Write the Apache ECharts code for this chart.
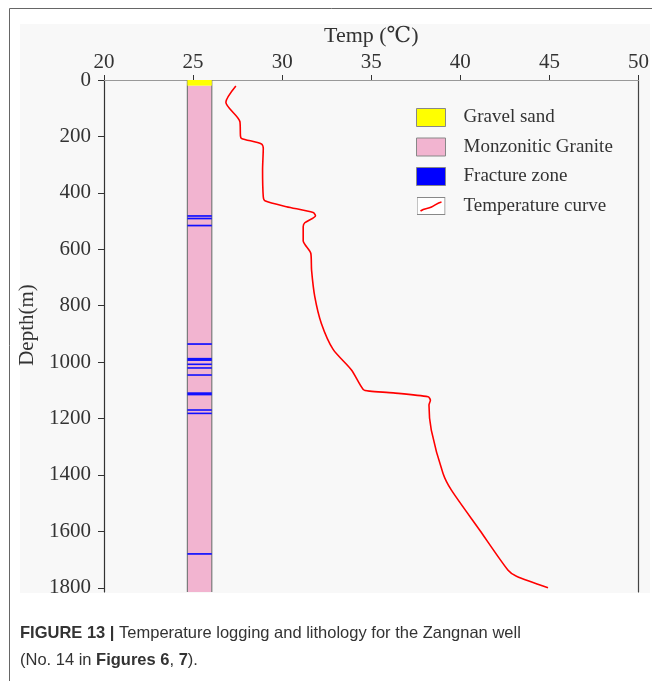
<!DOCTYPE html>
<html><head><meta charset="utf-8">
<script src="https://cdn.jsdelivr.net/npm/echarts@6/dist/echarts.min.js"></script>
<style>html,body{margin:0;padding:0;background:#fff}#c{width:652px;height:681px}</style>
</head><body><div id="c"></div>
<script>
// ---- data ----
const tempTicks = [20, 25, 30, 35, 40, 45, 50];
const depthTicks = [0, 200, 400, 600, 800, 1000, 1200, 1400, 1600, 1800];
const gravelTop = [0];
const gravelBottom = [20];
const graniteTop = [20];
const graniteBottom = [1815];
const fractureTop =    [479, 488, 513, 933, 985, 1005, 1018, 1043, 1107, 1167, 1179, 1677];
const fractureBottom = [485, 494, 519, 939, 996, 1010, 1023, 1048, 1118, 1172, 1184, 1683];
const curveTemp =  [27.40, 26.84, 27.63, 27.66, 27.72, 28.84, 28.94, 28.90, 28.94, 29.03, 30.24, 31.74, 31.87, 31.27, 31.18, 31.18, 31.61, 31.65, 31.83, 32.20, 32.86, 33.89, 34.55, 34.92, 36.23, 38.19, 38.32, 38.24, 38.37, 39.03, 39.50, 41.09, 42.68, 43.15, 44.92];
const curveDepth = [21,    79,    148,   199,   207,   227,   242,   319,   414,   428,   449,   470,   481,   506,   520,   570,   615,   674,   768,   863,   955,   1028,  1097,  1103,  1109,  1123,  1135,  1152,  1241,  1395,  1454,  1596,  1738,  1759,  1800];

// ---- chart ----
const COL_L = 24.68, COL_R = 26.05;
const SERIF = "'Liberation Serif', 'DejaVu Serif', serif";

function bands(tops, bots) { return tops.map((t, i) => [t, bots[i]]); }

function bandRender(color, minH, withBorder) {
  return function (params, api) {
    const top = api.value(0), bot = api.value(1);
    const p0 = api.coord([COL_L, top]);
    const p1 = api.coord([COL_R, bot]);
    const h = Math.max(p1[1] - p0[1], minH);
    const children = [{ type: 'rect', shape: { x: p0[0], y: p0[1], width: p1[0] - p0[0], height: h }, style: { fill: color } }];
    if (withBorder) {
      const q0 = api.coord([COL_L, gravelTop[0]]);
      children.push({ type: 'line', shape: { x1: p0[0], y1: q0[1], x2: p0[0], y2: p1[1] }, style: { stroke: '#7a7a7a', lineWidth: 1.2 } });
      children.push({ type: 'line', shape: { x1: p1[0], y1: q0[1], x2: p1[0], y2: p1[1] }, style: { stroke: '#7a7a7a', lineWidth: 1.2 } });
    }
    return { type: 'group', children: children };
  };
}

const curveIcon = 'image://data:image/svg+xml;charset=utf-8,' + encodeURIComponent(
  "<svg xmlns='http://www.w3.org/2000/svg' width='29' height='18'><rect x='0.5' y='0.5' width='28' height='17' fill='white' stroke='#888'/><path d='M4 14 C8 11, 11 12, 15 10 S21 6, 25 5' stroke='red' fill='none' stroke-width='1.6'/></svg>");

const chart = echarts.init(document.getElementById('c'), null, { renderer: 'canvas' });
const option = {
  animation: false,
  backgroundColor: '#ffffff',
  graphic: [
    { type: 'rect', z: -20, shape: { x: 9.5, y: 8.5, width: 720, height: 720 }, style: { fill: '#ffffff', stroke: '#666', lineWidth: 1 } },
    { type: 'rect', z: -19, shape: { x: 20, y: 24, width: 630, height: 569 }, style: { fill: '#f8f8f8' } },
    { type: 'text', left: 20, top: 620, style: {
        text: '{b|FIGURE 13 |} Temperature logging and lithology for the Zangnan well\n(No. 14 in {b|Figures 6}, {b|7}).',
        fontFamily: "'Liberation Sans', Arial, sans-serif", fontSize: 16.5, fill: '#333', lineHeight: 27,
        rich: { b: { fontWeight: 'bold', fontFamily: "'Liberation Sans', Arial, sans-serif", fontSize: 16.5, fill: '#333', lineHeight: 27 } }
    } }
  ],
  grid: { left: 104, top: 80, width: 535, height: 512, containLabel: false },
  legend: {
    orient: 'vertical', left: 416, top: 108, padding: 0, itemWidth: 29, itemHeight: 18, itemGap: 10.5,
    textStyle: { fontFamily: SERIF, fontSize: 19, color: '#333', padding: [0, 0, 0, 13] },
    data: [
      { name: 'Gravel sand', icon: 'rect', itemStyle: { color: '#ffff00', borderColor: '#888', borderWidth: 1 } },
      { name: 'Monzonitic Granite', icon: 'rect', itemStyle: { color: '#f2b4d0', borderColor: '#888', borderWidth: 1 } },
      { name: 'Fracture zone', icon: 'rect', itemStyle: { color: '#0000ff', borderColor: '#888', borderWidth: 1 } },
      { name: 'Temperature curve', icon: curveIcon }
    ]
  },
  xAxis: [
    { type: 'value', position: 'top', min: 20, max: 50, interval: 5,
      name: 'Temp (℃)', nameLocation: 'middle', nameGap: 32,
      nameTextStyle: { fontFamily: SERIF, fontSize: 22, color: '#333' },
      axisLine: { show: true, lineStyle: { color: '#333', width: 1.2 } },
      axisTick: { show: true, length: 5, lineStyle: { color: '#333' }, customValues: tempTicks },
      axisLabel: { fontFamily: SERIF, fontSize: 21, color: '#333', margin: 7, customValues: tempTicks },
      splitLine: { show: false } },
    { type: 'value', position: 'bottom', min: 20, max: 50,
      axisLine: { show: true, lineStyle: { color: '#999', width: 1.2 } },
      axisTick: { show: false }, axisLabel: { show: false }, splitLine: { show: false } }
  ],
  yAxis: [
    { type: 'value', inverse: true, min: 0, max: 1815, interval: 200,
      name: 'Depth(m)', nameLocation: 'middle', nameGap: 58, nameRotate: 90,
      nameTextStyle: { fontFamily: SERIF, fontSize: 21, color: '#333', padding: [0, 0, 0, 22] },
      axisLine: { show: true, lineStyle: { color: '#333', width: 1.2 } },
      axisTick: { show: true, length: 6, lineStyle: { color: '#333' }, customValues: depthTicks },
      axisLabel: { fontFamily: SERIF, fontSize: 21, color: '#333', margin: 13, customValues: depthTicks,
        formatter: function (v) { return String(v); } },
      splitLine: { show: false } },
    { type: 'value', position: 'right', inverse: true, min: 0, max: 1815,
      axisLine: { show: true, lineStyle: { color: '#444', width: 1.2 } },
      axisTick: { show: false }, axisLabel: { show: false }, splitLine: { show: false } }
  ],
  series: [
    { name: 'Monzonitic Granite', type: 'custom', z: 3, color: '#f2b4d0', renderItem: bandRender('#f2b4d0', 0, true),
      encode: { y: [0, 1] }, data: bands(graniteTop, graniteBottom) },
    { name: 'Gravel sand', type: 'custom', z: 4, color: '#ffff00', renderItem: bandRender('#ffff00', 0, false),
      encode: { y: [0, 1] }, data: bands(gravelTop, gravelBottom) },
    { name: 'Fracture zone', type: 'custom', z: 5, color: '#0000ff', renderItem: bandRender('#1010ff', 1.6, false),
      encode: { y: [0, 1] }, data: bands(fractureTop, fractureBottom) },
    { name: 'Temperature curve', type: 'line', z: 6, color: '#ff0000', symbol: 'none', smooth: 0.25,
      lineStyle: { color: '#ff0000', width: 1.6 },
      data: curveTemp.map((t, i) => [t, curveDepth[i]]) }
  ]
};
chart.setOption(option);
</script>
</body></html>
